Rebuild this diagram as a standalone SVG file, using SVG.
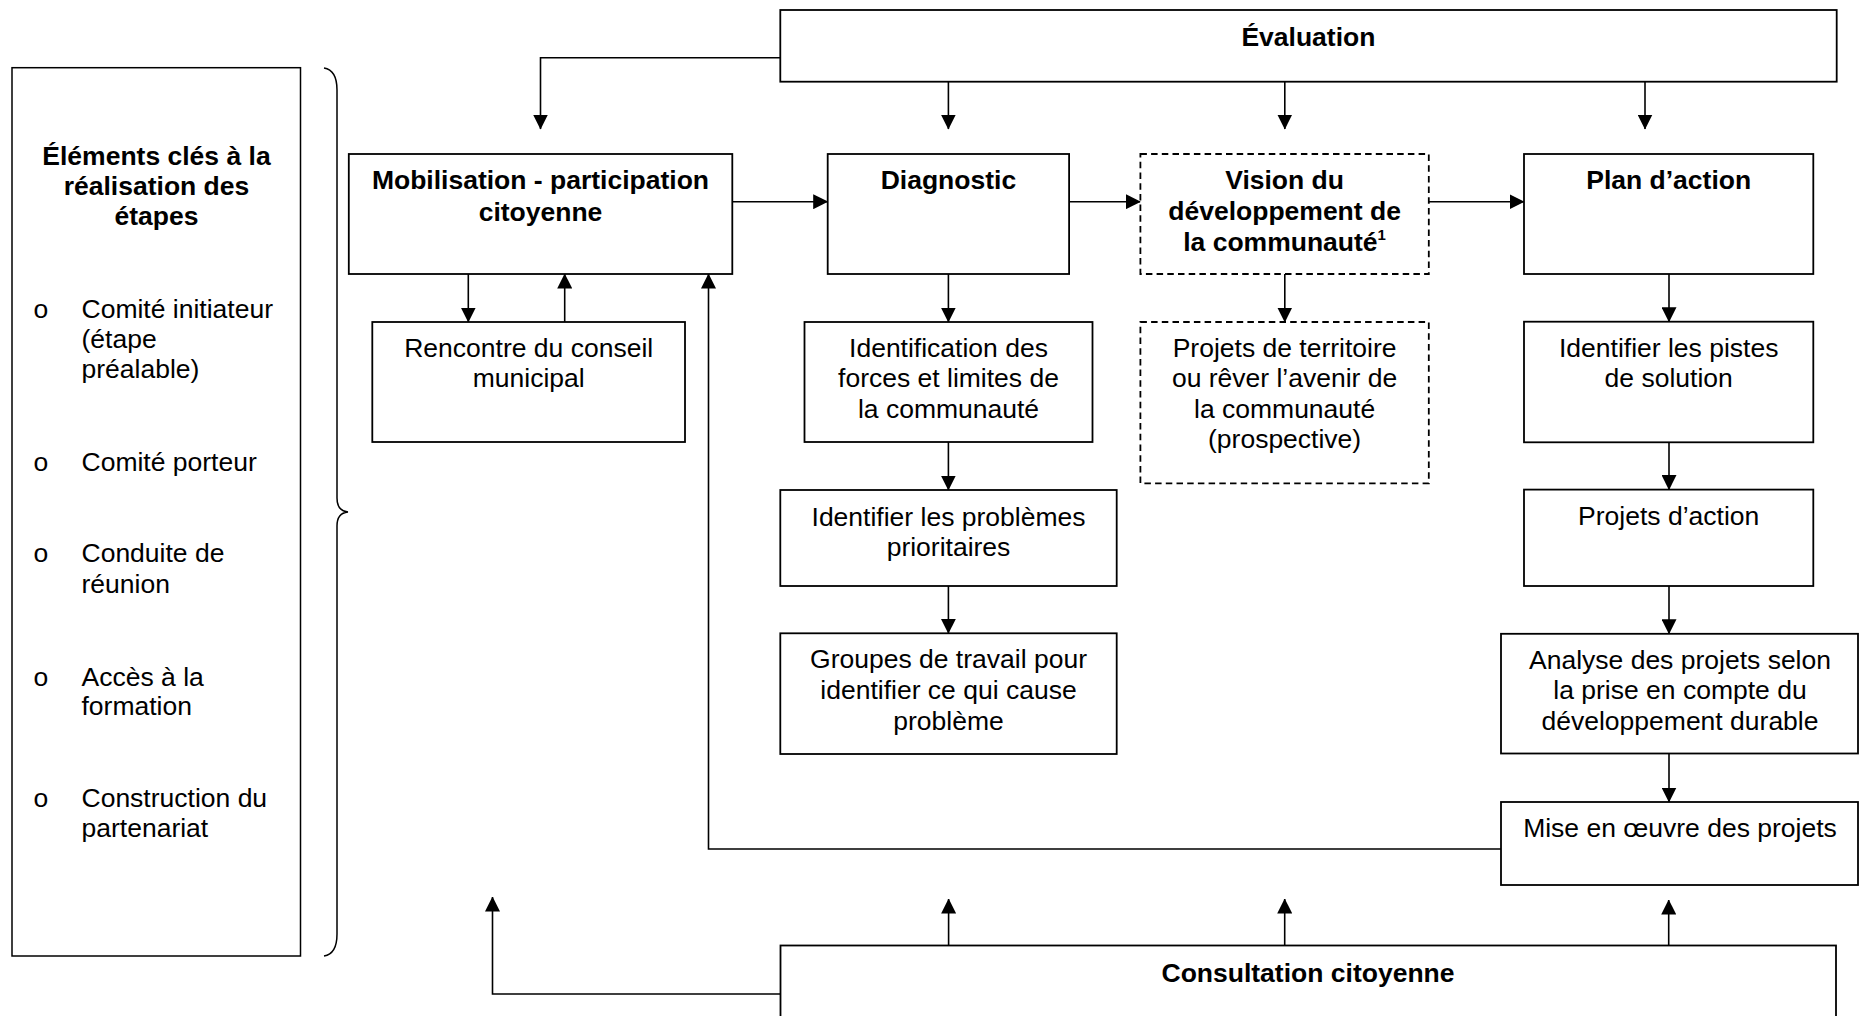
<svg xmlns="http://www.w3.org/2000/svg" width="1860" height="1016" viewBox="0 0 1860 1016">
<defs>
<style>
.box{fill:#fff;stroke:#000;stroke-width:1.8}
.dash{stroke-dasharray:6.5 4.2}
.thin{stroke-width:1.5}
.t{font-family:"Liberation Sans",Arial,sans-serif;font-size:26.5px;fill:#000}
.b{font-weight:bold}
.c{text-anchor:middle}
.conn{fill:none;stroke:#000;stroke-width:1.6}
.arr{marker-end:url(#ah)}
</style>
<marker id="ah" markerUnits="userSpaceOnUse" viewBox="0 0 15 15" markerWidth="15" markerHeight="15" refX="14.5" refY="7.5" orient="auto">
<path d="M0,0 L15,7.5 L0,15 Z" fill="#000"/>
</marker>
</defs>
<rect width="1860" height="1016" fill="#fff"/>

<g id="connectors">
<path class="conn arr" d="M780,57.7 H540.5 V129"/>
<path class="conn arr" d="M948.4,81.7 V129"/>
<path class="conn arr" d="M1284.8,81.7 V129"/>
<path class="conn arr" d="M1645,81.7 V129"/>
<path class="conn arr" d="M732,201.7 H827.7"/>
<path class="conn arr" d="M1069,201.7 H1140.4"/>
<path class="conn arr" d="M1428.8,201.7 H1524"/>
<path class="conn arr" d="M468.3,274 V322"/>
<path class="conn arr" d="M564.7,322 V274"/>
<path class="conn arr" d="M948.4,274 V322"/>
<path class="conn arr" d="M948.4,442 V490"/>
<path class="conn arr" d="M948.4,586 V633.3"/>
<path class="conn arr" d="M1284.8,274 V322"/>
<path class="conn arr" d="M1669,274 V321.7"/>
<path class="conn arr" d="M1669,442.3 V489.6"/>
<path class="conn arr" d="M1669,586 V633.8"/>
<path class="conn arr" d="M1669,753.5 V802"/>
<path class="conn arr" d="M1501,849 H708.5 V274"/>
<path class="conn arr" d="M780.5,994 H492.5 V897"/>
<path class="conn arr" d="M948.6,945.5 V899"/>
<path class="conn arr" d="M1284.7,945.5 V899"/>
<path class="conn arr" d="M1668.7,945.5 V900"/>
</g>

<g id="elements-cles">
<rect class="box thin" x="12" y="67.7" width="288.5" height="888.3"/>
<text class="t b c" x="156.5" y="165">Éléments clés à la</text>
<text class="t b c" x="156.5" y="195">réalisation des</text>
<text class="t b c" x="156.5" y="225">étapes</text>
<text class="t" x="33.5" y="318">o</text>
<text class="t" x="81.5" y="318">Comité initiateur</text>
<text class="t" x="81.5" y="348.3">(étape</text>
<text class="t" x="81.5" y="378.3">préalable)</text>
<text class="t" x="33.5" y="470.7">o</text>
<text class="t" x="81.5" y="470.7">Comité porteur</text>
<text class="t" x="33.5" y="561.7">o</text>
<text class="t" x="81.5" y="561.7">Conduite de</text>
<text class="t" x="81.5" y="592.7">réunion</text>
<text class="t" x="33.5" y="685.7">o</text>
<text class="t" x="81.5" y="685.7">Accès à la</text>
<text class="t" x="81.5" y="715">formation</text>
<text class="t" x="33.5" y="807.3">o</text>
<text class="t" x="81.5" y="807.3">Construction du</text>
<text class="t" x="81.5" y="837.3">partenariat</text>
</g>

<g id="brace">
<path d="M324,68 Q337,70 337,90 L337,498 Q337,511 348,512 Q337,513 337,526 L337,934 Q337,954 324,956" fill="none" stroke="#000" stroke-width="1.5"/>
</g>

<g id="evaluation">
<rect class="box" x="780.3" y="10" width="1056.4" height="71.7"/>
<text class="t b c" x="1308.4" y="45.7">Évaluation</text>
</g>

<g id="mobilisation">
<rect class="box" x="348.8" y="154" width="383.5" height="120"/>
<text class="t b c" x="540.5" y="189">Mobilisation - participation</text>
<text class="t b c" x="540.5" y="220.5">citoyenne</text>
</g>

<g id="diagnostic">
<rect class="box" x="827.7" y="154" width="241.4" height="120"/>
<text class="t b c" x="948.4" y="189">Diagnostic</text>
</g>

<g id="vision">
<rect class="box dash" x="1140.4" y="154" width="288.4" height="120"/>
<text class="t b c" x="1284.6" y="189">Vision du</text>
<text class="t b c" x="1284.6" y="220">développement de</text>
<text class="t b c" x="1284.6" y="251">la communauté<tspan font-size="15" dy="-11">1</tspan></text>
</g>

<g id="plan-action">
<rect class="box" x="1524" y="154" width="289.3" height="120"/>
<text class="t b c" x="1668.7" y="189.3">Plan d’action</text>
</g>

<g id="rencontre">
<rect class="box" x="372.3" y="322" width="312.7" height="120"/>
<text class="t c" x="528.7" y="357.3">Rencontre du conseil</text>
<text class="t c" x="528.7" y="387.3">municipal</text>
</g>

<g id="identification">
<rect class="box" x="804.5" y="322" width="288" height="120"/>
<text class="t c" x="948.5" y="357.3">Identification des</text>
<text class="t c" x="948.5" y="387.3">forces et limites de</text>
<text class="t c" x="948.5" y="418.3">la communauté</text>
</g>

<g id="projets-territoire">
<rect class="box dash" x="1140.4" y="322" width="288.4" height="161.3"/>
<text class="t c" x="1284.6" y="357.3">Projets de territoire</text>
<text class="t c" x="1284.6" y="387.3">ou rêver l’avenir de</text>
<text class="t c" x="1284.6" y="418.3">la communauté</text>
<text class="t c" x="1284.6" y="448.3">(prospective)</text>
</g>

<g id="pistes-solution">
<rect class="box" x="1524" y="321.7" width="289.3" height="120.6"/>
<text class="t c" x="1668.7" y="356.7">Identifier les pistes</text>
<text class="t c" x="1668.7" y="387.3">de solution</text>
</g>

<g id="problemes">
<rect class="box" x="780.3" y="490" width="336.4" height="96"/>
<text class="t c" x="948.5" y="525.7">Identifier les problèmes</text>
<text class="t c" x="948.5" y="555.7">prioritaires</text>
</g>

<g id="projets-action">
<rect class="box" x="1524" y="489.6" width="289.3" height="96.4"/>
<text class="t c" x="1668.7" y="525.1">Projets d’action</text>
</g>

<g id="groupes">
<rect class="box" x="780.3" y="633.3" width="336.4" height="120.7"/>
<text class="t c" x="948.5" y="668.3">Groupes de travail pour</text>
<text class="t c" x="948.5" y="699">identifier ce qui cause</text>
<text class="t c" x="948.5" y="730">problème</text>
</g>

<g id="analyse">
<rect class="box" x="1501" y="633.8" width="357" height="119.7"/>
<text class="t c" x="1680" y="668.7">Analyse des projets selon</text>
<text class="t c" x="1680" y="698.8">la prise en compte du</text>
<text class="t c" x="1680" y="729.6">développement durable</text>
</g>

<g id="mise-en-oeuvre">
<rect class="box" x="1501" y="802" width="357" height="83"/>
<text class="t c" x="1680" y="836.7">Mise en œuvre des projets</text>
</g>

<g id="consultation">
<rect class="box" x="780.5" y="945.5" width="1055.5" height="90"/>
<text class="t b c" x="1308" y="981.7">Consultation citoyenne</text>
</g>
</svg>
